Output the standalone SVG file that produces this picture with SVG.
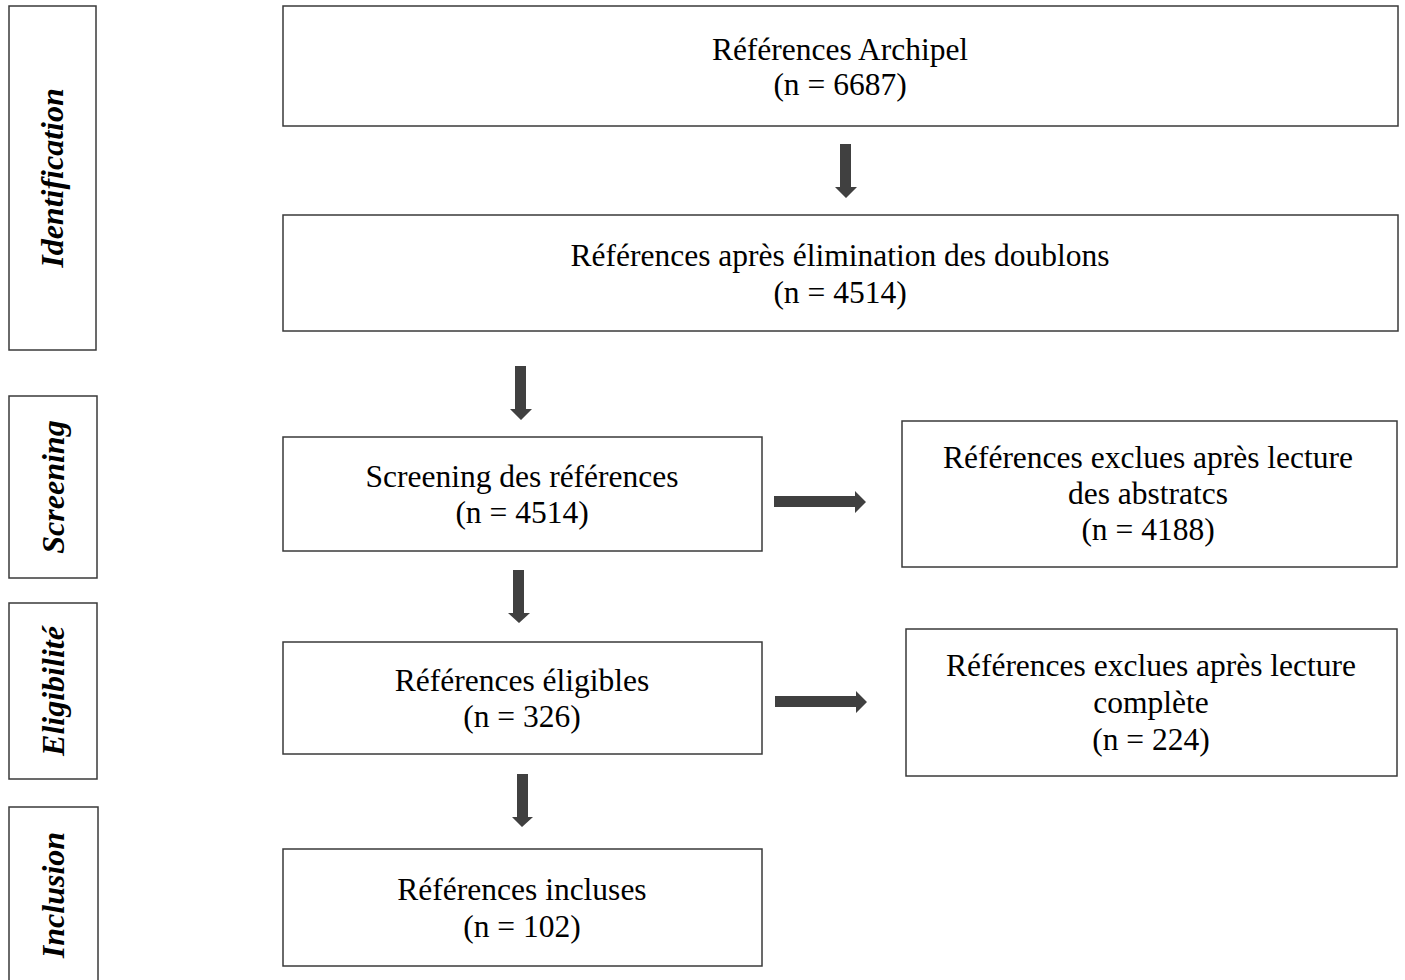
<svg xmlns="http://www.w3.org/2000/svg" width="1405" height="980" viewBox="0 0 1405 980">
<style>
.box{fill:#fff;stroke:#3a3a3a;stroke-width:1.5}
.t{font-family:"Liberation Serif","Times New Roman",serif;font-size:31.5px;fill:#000;text-anchor:middle}
.s{font-family:"Liberation Serif","Times New Roman",serif;font-size:32px;font-weight:bold;font-style:italic;fill:#000;text-anchor:middle}
.arr{fill:#404040}
</style>
<rect width="1405" height="980" fill="#fff"/>
<g id="stage-identification"><rect class="box" x="9" y="6" width="87" height="344"/><text class="s" transform="translate(63,178) rotate(-90)">Identification</text></g>
<g id="stage-screening"><rect class="box" x="9" y="396" width="88" height="182"/><text class="s" transform="translate(64,487) rotate(-90)">Screening</text></g>
<g id="stage-eligibilite"><rect class="box" x="9" y="603" width="88" height="176"/><text class="s" transform="translate(64,691) rotate(-90)">Eligibilité</text></g>
<g id="stage-inclusion"><rect class="box" x="9" y="807" width="89" height="180"/><text class="s" transform="translate(64,895) rotate(-90)">Inclusion</text></g>
<g id="n1"><rect class="box" x="283" y="6" width="1115" height="120"/><text class="t" x="840" y="60">Références Archipel</text><text class="t" x="840" y="95">(n = 6687)</text></g>
<g id="n2"><rect class="box" x="283" y="215" width="1115" height="116"/><text class="t" x="840" y="266">Références après élimination des doublons</text><text class="t" x="840" y="303">(n = 4514)</text></g>
<g id="n3"><rect class="box" x="283" y="437" width="479" height="114"/><text class="t" x="522" y="487">Screening des références</text><text class="t" x="522" y="523">(n = 4514)</text></g>
<g id="n4"><rect class="box" x="902" y="421" width="495" height="146"/><text class="t" x="1148" y="468">Références exclues après lecture</text><text class="t" x="1148" y="504">des abstratcs</text><text class="t" x="1148" y="540">(n = 4188)</text></g>
<g id="n5"><rect class="box" x="283" y="642" width="479" height="112"/><text class="t" x="522" y="691">Références éligibles</text><text class="t" x="522" y="727">(n = 326)</text></g>
<g id="n6"><rect class="box" x="906" y="629" width="491" height="147"/><text class="t" x="1151" y="676">Références exclues après lecture</text><text class="t" x="1151" y="713">complète</text><text class="t" x="1151" y="750">(n = 224)</text></g>
<g id="n7"><rect class="box" x="283" y="849" width="479" height="117"/><text class="t" x="522" y="900">Références incluses</text><text class="t" x="522" y="937">(n = 102)</text></g>
<g id="connectors">
<polygon class="arr" points="840,144 851,144 851,187 857,187 846,198 835,187 840,187"/>
<polygon class="arr" points="515,366 526,366 526,409 532,409 521,420 510,409 515,409"/>
<polygon class="arr" points="513,570 524,570 524,613 530,613 519,623 508,613 513,613"/>
<polygon class="arr" points="517,774 528,774 528,817 533,817 522,827 512,817 517,817"/>
<polygon class="arr" points="774,496 855,496 855,491 866,502 855,513 855,507 774,507"/>
<polygon class="arr" points="775,696 856,696 856,691 867,702 856,713 856,707 775,707"/>
</g>
</svg>
